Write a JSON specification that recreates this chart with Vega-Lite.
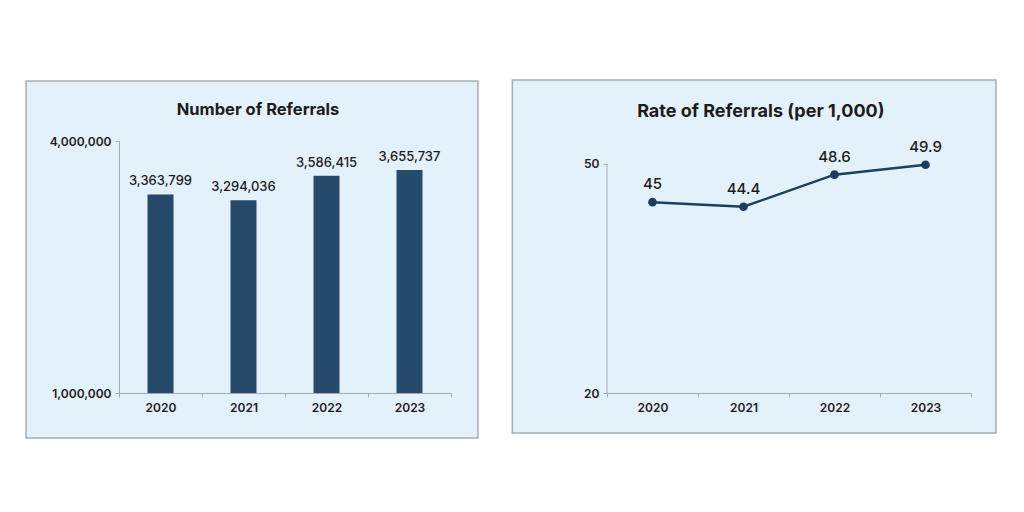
{
  "$schema": "https://vega.github.io/schema/vega-lite/v6.json",
  "background": "white",
  "padding": {"left": 25, "top": 79, "right": 0, "bottom": 0},
  "columns": 2,
  "align": "none",
  "spacing": 32,
  "config": {
    "view": {"stroke": null},
    "font": "Inter",
    "axis": {
      "grid": false,
      "domainColor": "#a3abb0",
      "tickColor": "#a3abb0",
      "domainWidth": 1,
      "tickSize": 4,
      "labelColor": "#1c1c1c",
      "labelFont": "Inter",
      "labelFontSize": 12,
      "labelFontWeight": 600,
      "labelOverlap": false,
      "labelFlush": false
    }
  },
  "concat": [
    {
      "width": 332,
      "height": 252,
      "layer": [
        {
          "data": {"values": [{}]},
          "mark": {"type": "rect", "fill": "#e3f1fa", "stroke": "#a5aeb3", "strokeWidth": 1.5, "clip": false},
          "encoding": {
            "x": {"datum": 2018.38, "type": "quantitative", "scale": {"domain": [2019.5, 2023.5], "nice": false, "zero": false, "padding": 0}},
            "x2": {"datum": 2023.825},
            "y": {"datum": 464286, "type": "quantitative", "scale": {"domain": [1000000, 4000000], "nice": false, "zero": false}},
            "y2": {"datum": 4714286}
          }
        },
        {
          "data": {"values": [{"label": "Number of Referrals"}]},
          "mark": {"type": "text", "fontSize": 16.5, "fontWeight": "bold", "color": "#1c1c1c", "baseline": "middle", "clip": false},
          "encoding": {
            "x": {"datum": 2021.175, "type": "quantitative", "scale": {"domain": [2019.5, 2023.5], "nice": false, "zero": false, "padding": 0}},
            "y": {"datum": 4369048, "type": "quantitative", "scale": {"domain": [1000000, 4000000], "nice": false, "zero": false}},
            "text": {"field": "label"}
          }
        },
        {
          "data": {"values": [
            {"year": 2020, "referrals": 3363799},
            {"year": 2021, "referrals": 3294036},
            {"year": 2022, "referrals": 3586415},
            {"year": 2023, "referrals": 3655737}
          ]},
          "layer": [
            {
              "mark": {"type": "bar", "size": 26, "color": "#264a6b"},
              "encoding": {
                "x": {
                  "field": "year", "type": "quantitative",
                  "scale": {"domain": [2019.5, 2023.5], "nice": false, "zero": false, "padding": 0},
                  "axis": {
                    "title": null,
                    "zindex": 1,
                    "values": [2019.5, 2020.5, 2021.5, 2022.5, 2023.5],
                    "labelExpr": "datum.value > 2020 ? format(datum.value - 0.5, 'd') : ''",
                    "labelOffset": -41.5,
                    "labelPadding": 5
                  }
                },
                "y": {
                  "field": "referrals", "type": "quantitative",
                  "scale": {"domain": [1000000, 4000000], "nice": false, "zero": false},
                  "axis": {"title": null, "zindex": 1, "values": [1000000, 4000000], "labelExpr": "format(datum.value, ',')", "labelPadding": 4}
                },
                "y2": {"datum": 1000000}
              }
            },
            {
              "mark": {"type": "text", "baseline": "bottom", "dy": -6, "fontSize": 13, "fontWeight": 500, "color": "#1c1c1c"},
              "encoding": {
                "x": {"field": "year", "type": "quantitative"},
                "y": {"field": "referrals", "type": "quantitative"},
                "text": {"field": "referrals", "type": "quantitative", "format": ","}
              }
            }
          ]
        }
      ]
    },
    {
      "width": 364,
      "height": 252,
      "layer": [
        {
          "data": {"values": [{}]},
          "mark": {"type": "rect", "fill": "#e3f1fa", "stroke": "#a5aeb3", "strokeWidth": 1.5, "clip": false},
          "encoding": {
            "x": {"datum": 2018.46, "type": "quantitative", "scale": {"domain": [2019.5, 2023.5], "nice": false, "zero": false}},
            "x2": {"datum": 2023.775},
            "y": {"datum": 14.76, "type": "quantitative", "scale": {"domain": [20, 53.013], "nice": false, "zero": false}},
            "y2": {"datum": 61.0}
          }
        },
        {
          "data": {"values": [{}]},
          "mark": {"type": "rule", "color": "#a3abb0", "strokeWidth": 1},
          "encoding": {
            "x": {"datum": 2019.5, "type": "quantitative", "scale": {"domain": [2019.5, 2023.5], "nice": false, "zero": false}},
            "y": {"datum": 20, "type": "quantitative", "scale": {"domain": [20, 53.013], "nice": false, "zero": false}},
            "y2": {"datum": 50}
          }
        },
        {
          "data": {"values": [{"label": "Rate of Referrals (per 1,000)"}]},
          "mark": {"type": "text", "fontSize": 18, "fontWeight": "bold", "color": "#1c1c1c", "baseline": "middle", "clip": false},
          "encoding": {
            "x": {"datum": 2021.19, "type": "quantitative", "scale": {"domain": [2019.5, 2023.5], "nice": false, "zero": false}},
            "y": {"datum": 56.8, "type": "quantitative", "scale": {"domain": [20, 53.013], "nice": false, "zero": false}},
            "text": {"field": "label"}
          }
        },
        {
          "data": {"values": [
            {"year": 2020, "rate": 45},
            {"year": 2021, "rate": 44.4},
            {"year": 2022, "rate": 48.6},
            {"year": 2023, "rate": 49.9}
          ]},
          "layer": [
            {
              "mark": {"type": "line", "color": "#1f3d5c", "strokeWidth": 2.5, "point": {"filled": true, "size": 75, "color": "#1f3d5c", "opacity": 1}},
              "encoding": {
                "x": {
                  "field": "year", "type": "quantitative",
                  "scale": {"domain": [2019.5, 2023.5], "nice": false, "zero": false},
                  "axis": {
                    "title": null,
                    "zindex": 1,
                    "values": [2019.5, 2020.5, 2021.5, 2022.5, 2023.5],
                    "labelExpr": "datum.value > 2020 ? format(datum.value - 0.5, 'd') : ''",
                    "labelOffset": -45.5,
                    "labelPadding": 5
                  }
                },
                "y": {
                  "field": "rate", "type": "quantitative",
                  "scale": {"domain": [20, 53.013], "nice": false, "zero": false},
                  "axis": {"title": null, "zindex": 1, "domain": false, "values": [20, 50], "labelPadding": 4}
                }
              }
            },
            {
              "mark": {"type": "text", "baseline": "bottom", "dy": -10, "fontSize": 15, "fontWeight": 500, "color": "#1c1c1c"},
              "encoding": {
                "x": {"field": "year", "type": "quantitative"},
                "y": {"field": "rate", "type": "quantitative"},
                "text": {"field": "rate", "type": "quantitative"}
              }
            }
          ]
        }
      ]
    }
  ]
}
